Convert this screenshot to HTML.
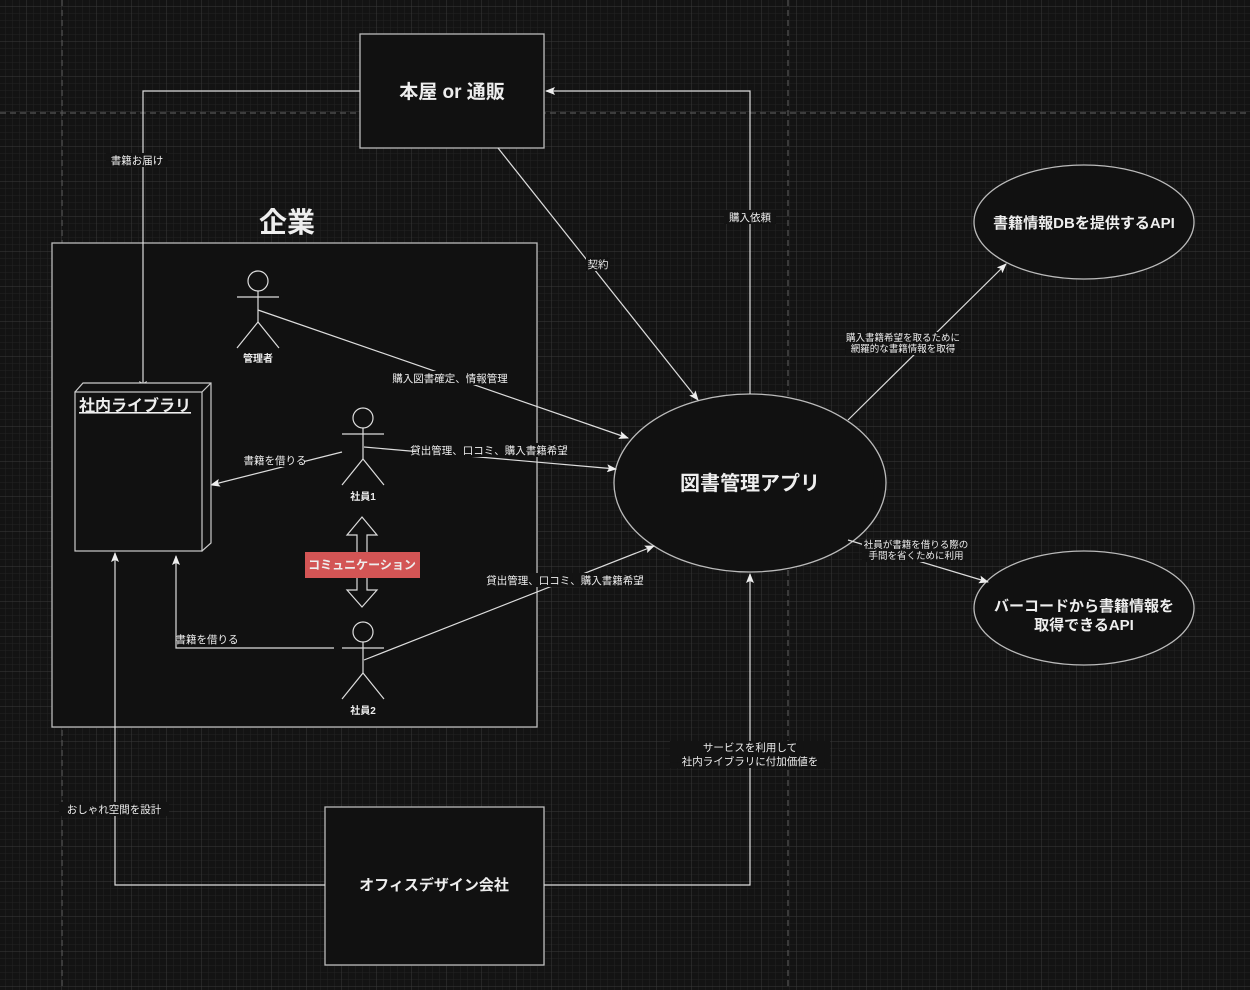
<!DOCTYPE html>
<html><head><meta charset="utf-8"><style>
html,body{margin:0;padding:0;background:#141414;}
svg{display:block;}
text{font-family:"Liberation Sans","Noto Sans CJK JP",sans-serif;fill:#eee;}
.b{font-weight:bold;}
.lbl{font-size:10.5px;fill:#ccc;}
</style></head><body>
<svg width="1250" height="990" viewBox="0 0 1250 990" xmlns="http://www.w3.org/2000/svg">
<defs>
<pattern id="minor" x="26.5" y="6.5" width="7" height="7" patternUnits="userSpaceOnUse">
<path d="M0 0H7M0 0V7" stroke="#232323" stroke-width="1" fill="none"/></pattern>
<pattern id="major" x="26.5" y="6.5" width="35" height="35" patternUnits="userSpaceOnUse">
<path d="M0 0H35M0 0V35" stroke="#383838" stroke-width="1" fill="none"/></pattern>
<marker id="a" markerWidth="10" markerHeight="8" refX="9" refY="4" orient="auto" markerUnits="userSpaceOnUse">
<path d="M0,0 L10,4 L0,8 L2,4 Z" fill="#eee"/></marker>
</defs>
<rect width="1250" height="990" fill="#131313"/>
<rect width="1250" height="990" fill="url(#minor)"/>
<rect width="1250" height="990" fill="url(#major)"/>
<g stroke="#555" stroke-dasharray="6,4" stroke-width="1.2">
<line x1="62" y1="0" x2="62" y2="990"/><line x1="788" y1="0" x2="788" y2="990"/><line x1="0" y1="113" x2="1250" y2="113"/>
</g>

<g fill="#111" stroke="#bbb" stroke-width="1.3">
<rect x="360" y="34" width="184" height="114"/>
<rect x="52" y="243" width="485" height="484"/>
<rect x="325" y="807" width="219" height="158"/>
<ellipse cx="750" cy="483" rx="136" ry="89"/>
<ellipse cx="1084" cy="222" rx="110" ry="57"/>
<ellipse cx="1084" cy="608" rx="110" ry="57"/>
</g>

<g stroke="#ddd" stroke-width="1.2" fill="none">
<polyline points="360,91 143,91 143,390" marker-end="url(#a)"/>
<polyline points="750,394 750,91 546,91" marker-end="url(#a)"/>
<line x1="498" y1="148" x2="698" y2="400" marker-end="url(#a)"/>
<line x1="258" y1="310" x2="628" y2="438" marker-end="url(#a)"/>
<line x1="364" y1="447" x2="616" y2="469" marker-end="url(#a)"/>
<line x1="342" y1="452" x2="211" y2="485" marker-end="url(#a)"/>
<polyline points="334,648 176,648 176,556" marker-end="url(#a)"/>
<line x1="364" y1="660" x2="654" y2="546" marker-end="url(#a)"/>
<line x1="848" y1="420" x2="1006" y2="264" marker-end="url(#a)"/>
<line x1="848" y1="540" x2="988" y2="582" marker-end="url(#a)"/>
<polyline points="325,885 115,885 115,553" marker-end="url(#a)"/>
<polyline points="544,885 750,885 750,574" marker-end="url(#a)"/>
</g>

<g fill="#111" stroke="#ccc" stroke-width="1.2">
<path d="M75,392 L83,383 L211,383 L211,543 L202,551 Z"/>
<rect x="75" y="392" width="127" height="159"/>
<line x1="202" y1="392" x2="211" y2="383"/>
</g>
<text x="79" y="411" class="b" font-size="16" text-decoration="underline">社内ライブラリ</text>

<g stroke="#ddd" stroke-width="1.2" fill="none">
<g transform="translate(258,0)"><circle cx="0" cy="281" r="10"/><line x1="-21" y1="297" x2="21" y2="297"/><line x1="0" y1="291" x2="0" y2="322"/><polyline points="-21,348 0,322 21,348"/></g>
<g transform="translate(363,137)"><circle cx="0" cy="281" r="10"/><line x1="-21" y1="297" x2="21" y2="297"/><line x1="0" y1="291" x2="0" y2="322"/><polyline points="-21,348 0,322 21,348"/></g>
<g transform="translate(363,351)"><circle cx="0" cy="281" r="10"/><line x1="-21" y1="297" x2="21" y2="297"/><line x1="0" y1="291" x2="0" y2="322"/><polyline points="-21,348 0,322 21,348"/></g>
<path d="M362,517 L377,535 L367,535 L367,590 L377,590 L362,607 L347,590 L357,590 L357,535 L347,535 Z"/>
</g>
<g class="b" font-size="10" text-anchor="middle">
<text x="258" y="362">管理者</text><text x="363" y="500">社員1</text><text x="363" y="714">社員2</text>
</g>
<rect x="305" y="552" width="115" height="26" fill="#d35555"/>
<text x="362" y="569" class="b" font-size="12" text-anchor="middle">コミュニケーション</text>

<g class="lbl" text-anchor="middle">
<rect x="106" y="153" width="62" height="14" fill="#131313"/><text x="137" y="164">書籍お届け</text>
<rect x="724" y="210" width="52" height="14" fill="#131313"/><text x="750" y="221">購入依頼</text>
<rect x="586" y="257" width="24" height="14" fill="#131313"/><text x="598" y="268">契約</text>
<rect x="396" y="371" width="108" height="14" fill="#111"/><text x="450" y="382">購入図書確定、情報管理</text>
<rect x="416" y="443" width="146" height="14" fill="#111"/><text x="489" y="454">貸出管理、口コミ、購入書籍希望</text>
<rect x="246" y="453" width="58" height="14" fill="#111"/><text x="275" y="464">書籍を借りる</text>
<rect x="178" y="632" width="58" height="14" fill="#111"/><text x="207" y="643">書籍を借りる</text>
<rect x="492" y="573" width="146" height="14" fill="#131313"/><text x="565" y="584">貸出管理、口コミ、購入書籍希望</text>
<rect x="845" y="332" width="116" height="23" fill="#131313"/><text x="903" y="341" font-size="9.5">購入書籍希望を取るために</text><text x="903" y="352" font-size="9.5">網羅的な書籍情報を取得</text>
<rect x="862" y="540" width="108" height="22" fill="#131313"/><text x="916" y="548" font-size="9.5">社員が書籍を借りる際の</text><text x="916" y="559" font-size="9.5">手間を省くために利用</text>
<rect x="670" y="741" width="160" height="27" fill="#131313"/><text x="750" y="751">サービスを利用して</text><text x="750" y="765">社内ライブラリに付加価値を</text>
<rect x="59" y="802" width="110" height="14" fill="#131313"/><text x="114" y="813">おしゃれ空間を設計</text>
</g>

<g class="b" text-anchor="middle">
<text x="452" y="98" font-size="19">本屋 or 通販</text>
<text x="287" y="232" font-size="28">企業</text>
<text x="750" y="490" font-size="20">図書管理アプリ</text>
<text x="1084" y="228" font-size="15">書籍情報DBを提供するAPI</text>
<text x="1084" y="611" font-size="15">バーコードから書籍情報を</text>
<text x="1084" y="630" font-size="15">取得できるAPI</text>
<text x="434" y="890" font-size="15">オフィスデザイン会社</text>
</g>
</svg>
</body></html>
